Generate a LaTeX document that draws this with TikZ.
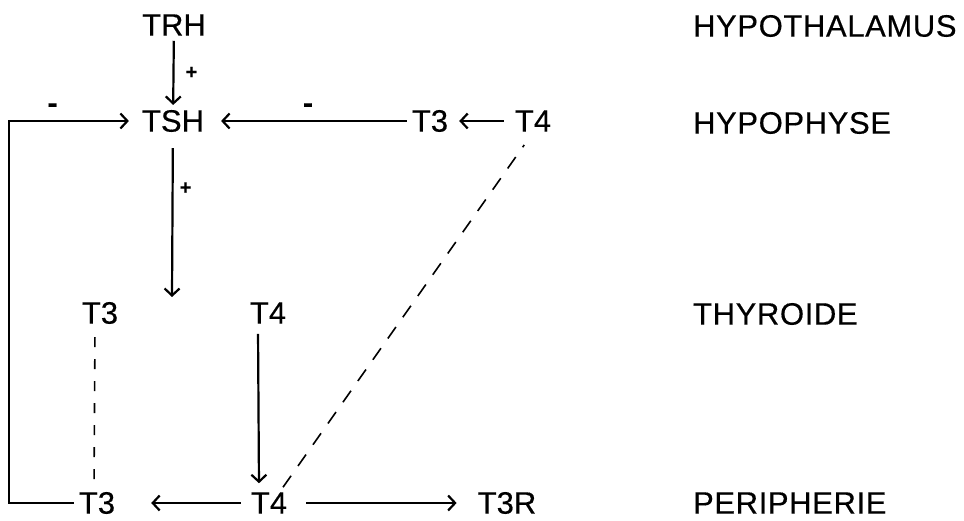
\documentclass[tikz,border=0pt]{standalone}
\usepackage{fontspec}
\setmainfont{Liberation Sans}[FakeBold=0.4]
\newfontfamily\organfont{Liberation Sans}[FakeBold=0.4, LetterSpace=2]
\usetikzlibrary{arrows.meta}
\tikzset{
    hormone/.style={font=\fontsize{31}{37}\selectfont, inner sep=4pt},
    organ/.style={font=\organfont\fontsize{31}{37}\selectfont, inner sep=4pt, anchor=west},
    plus/.style={font=\fontsize{20}{24}\selectfont\bfseries, inner sep=3pt},
    minus/.style={font=\fontsize{30}{36}\selectfont\bfseries, inner sep=3pt},
    thin dash/.style={line width=1.6pt, dash pattern=on 10pt off 12pt},
}

\begin{document}
\begin{tikzpicture}[x=1pt, y=-1pt, line width=2.2pt, >={Straight Barb[length=7pt,width=15pt]}]
        \useasboundingbox (0, 0) rectangle (964, 521);
        \path (174, 25) node[hormone](trh) {TRH} (173, 121) node[hormone](tsh) {TSH} (430, 121) node[hormone](t3h) {T3} (533, 121) node[hormone](t4h) {T4};
        \path (100, 313) node[hormone](t3t) {T3} (268, 313) node[hormone](t4t) {T4};
        \path (97, 503) node[hormone](t3p) {T3} (269, 503) node[hormone](t4p) {T4} (507, 503) node[hormone](t3r) {T3R};
        \path (688, 26) node[organ](hypo) {HYPOTHALAMUS} (688, 123) node[organ](hyph) {HYPOPHYSE} (688, 314) node[organ](thyr) {THYROIDE} (688, 503) node[organ](peri) {PERIPHERIE};
        \path (9, 503) coordinate(loop) (172, 297) coordinate(stim);
        \draw[->] (trh) -- node[plus, right, xshift=8pt] {+} (tsh);
        \draw[->, shorten >=8pt] (t3p) -- (loop) |- node[minus, above, pos=0.67, yshift=4pt] {-} (tsh);
        \draw[->, shorten >=12pt] (t3h) -- node[minus, above, yshift=4pt] {-} (tsh);
        \draw[->, shorten <=6pt, shorten >=6pt] (t4h) -- (t3h);
        \draw[->, shorten <=11pt] (tsh) -- node[plus, right, pos=0.32, xshift=3pt] {+} (stim);
        \draw[thin dash, shorten <=8pt, shorten >=6pt] ([xshift=-5pt]t3t.south) -- ([xshift=-3pt]t3p.north);
        \draw[->, shorten <=5pt, shorten >=4pt] ([xshift=-10pt]t4t.south) -- ([xshift=-10pt]t4p.north);
        \draw[thin dash, dash pattern=on 14pt off 12pt, shorten >=10pt] ([xshift=14pt]t4p.north) -- ([xshift=-3pt]t4h.south);
        \draw[->, shorten <=5pt, shorten >=31pt] (t4p) -- (t3p);
        \draw[->, shorten <=14pt, shorten >=16pt] (t4p) -- (t3r);
    \end{tikzpicture}
\end{document}
